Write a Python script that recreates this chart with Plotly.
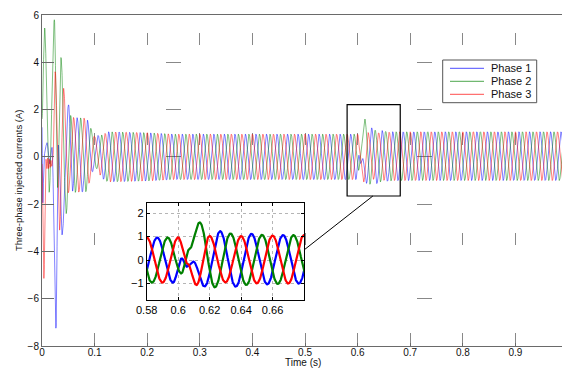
import numpy as np
import plotly.graph_objects as go

# ---------------- data ----------------
F_HZ = 50.0
T_END = 1.0
DT = 0.0002

phase_names = ["Phase 1", "Phase 2", "Phase 3"]
phase_colors = ["#0000ff", "#008000", "#ff0000"]
phase_angle_deg = [-120.0, 120.0, 0.0]          # phase of each current vs cos(wt)

# amplitude envelope of the steady 50 Hz currents (A)
env_t  = [0.0, 0.05, 0.085, 0.1, 0.11, 0.125, 0.2, 0.25, 0.58, 0.6, 0.617, 0.627, 0.64, 0.66, 0.68, 1.0]
env_p1 = [1.6, 1.6, 1.55, 0.6, 0.85, 1.06, 1.02, 0.96, 0.96, 0.96, 1.13, 1.22, 1.12, 1.04, 1.03, 1.03]
env_p2 = [1.6, 1.6, 1.55, 0.6, 0.85, 1.06, 1.02, 0.96, 0.96, 0.96, 1.20, 1.15, 1.08, 1.04, 1.03, 1.03]
env_p3 = [1.6, 1.6, 1.55, 0.6, 0.85, 1.06, 1.02, 0.96, 0.96, 0.96, 1.05, 0.95, 1.00, 1.02, 1.03, 1.03]

# small DC offset of the currents (A)
offset_t = [0.0, 0.085, 0.1, 0.115, 0.6, 0.68, 1.0]
offset_v = [0.08, 0.08, 0.25, 0.0, 0.0, 0.03, 0.03]

# start-up transient: successive extrema (s, A), joined to the steady wave at *_start_end
p1_start_t = [0.0, 0.0015, 0.004, 0.0095, 0.0145, 0.019, 0.0265, 0.031, 0.038, 0.0505, 0.058]
p1_start_v = [1.25, -1.95, 0.1, 0.6, -0.3, 0.4, -7.25, 0.5, -3.3, 2.2, -1.45]
p1_start_end = 0.0667
p2_start_t = [0.0, 0.005, 0.0135, 0.0235, 0.0295, 0.036, 0.046, 0.0545]
p2_start_v = [1.6, 5.45, -1.5, 5.8, -1.3, 4.2, -2.4, 1.75]
p2_start_end = 0.0633
p3_start_t = [0.0, 0.0035, 0.0075, 0.0095, 0.011, 0.0125, 0.014, 0.0155, 0.017, 0.0185, 0.0205, 0.025, 0.0335, 0.041]
p3_start_v = [-0.3, -5.15, -0.1, -0.5, -0.05, -0.5, -0.1, -0.45, -0.15, -0.4, -0.2, 3.6, -3.1, 2.9]
p3_start_end = 0.05

# disturbance near t = 0.6 s: extrema between two steady-wave joints
p1_dist_t = [0.6023, 0.6055, 0.6097]
p1_dist_v = [0.07, -0.28, -0.07]
p1_dist_win = [0.5967, 0.6167]
p2_dist_t = [0.602, 0.607, 0.6137]
p2_dist_v = [-0.57, 0.45, 1.6]
p2_dist_win = [0.5933, 0.6233]
p3_dist_t = [0.606, 0.6116]
p3_dist_v = [-0.15, -1.06]
p3_dist_win = [0.6, 0.62]

main_xticks = [0, 0.1, 0.2, 0.3, 0.4, 0.5, 0.6, 0.7, 0.8, 0.9]
main_xlabels = ["0", "0.1", "0.2", "0.3", "0.4", "0.5", "0.6", "0.7", "0.8", "0.9"]
main_yticks = [-8, -6, -4, -2, 0, 2, 4, 6]
inset_xticks = [0.58, 0.6, 0.62, 0.64, 0.66]
inset_xlabels = ["0.58", "0.6", "0.62", "0.64", "0.66"]
inset_yticks = [-1, 0, 1, 2]

# ---------------- build the curves ----------------
t = np.arange(0.0, T_END + DT / 2, DT)


def steady(tt, env, ang):
    a = np.interp(tt, env_t, env)
    off = np.interp(tt, offset_t, offset_v)
    return a * np.cos(2 * np.pi * F_HZ * tt + np.deg2rad(ang)) + off


def cos_interp(tt, kt, kv):
    kt = np.asarray(kt, float)
    kv = np.asarray(kv, float)
    idx = np.clip(np.searchsorted(kt, tt, side="right") - 1, 0, len(kt) - 2)
    s = np.clip((tt - kt[idx]) / (kt[idx + 1] - kt[idx]), 0, 1)
    w = (1 - np.cos(np.pi * s)) / 2
    return kv[idx] + (kv[idx + 1] - kv[idx]) * w


def build(env, ang, st_t, st_v, st_end, d_t, d_v, d_win):
    y = steady(t, env, ang)
    # start-up window
    kt = list(st_t) + [st_end]
    kv = list(st_v) + [float(steady(np.array([st_end]), env, ang)[0])]
    m = t <= st_end
    y[m] = cos_interp(t[m], kt, kv)
    # disturbance window
    a, b = d_win
    kt = [a] + list(d_t) + [b]
    kv = ([float(steady(np.array([a]), env, ang)[0])] + list(d_v)
          + [float(steady(np.array([b]), env, ang)[0])])
    m = (t >= a) & (t <= b)
    y[m] = cos_interp(t[m], kt, kv)
    return y


currents = [
    build(env_p1, phase_angle_deg[0], p1_start_t, p1_start_v, p1_start_end, p1_dist_t, p1_dist_v, p1_dist_win),
    build(env_p2, phase_angle_deg[1], p2_start_t, p2_start_v, p2_start_end, p2_dist_t, p2_dist_v, p2_dist_win),
    build(env_p3, phase_angle_deg[2], p3_start_t, p3_start_v, p3_start_end, p3_dist_t, p3_dist_v, p3_dist_win),
]

FONT = "Liberation Sans, Arial, Helvetica, sans-serif"
W, H = 562, 369
ML, MR, MT, MB = 42, 0, 15, 23
PW, PH = W - ML - MR, H - MT - MB

fig = go.Figure()
for name, col, y in zip(phase_names, phase_colors, currents):
    fig.add_trace(go.Scatter(x=t, y=y, mode="lines", name=name,
                             line=dict(color=col, width=0.5), showlegend=False,
                             xaxis="x", yaxis="y"))

m_in = (t >= 0.575) & (t <= 0.685)
for name, col, y in zip(phase_names, phase_colors, currents):
    fig.add_trace(go.Scatter(x=t[m_in], y=y[m_in], mode="lines", name=name,
                             line=dict(color=col, width=2.2), showlegend=False,
                             xaxis="x2", yaxis="y2"))


def px_to_paper_x(px):
    return (px - ML) / PW


def px_to_paper_y(py):
    return (H - MB - py) / PH


axis_gray = "#6a6a6a"
fig.update_layout(
    width=W, height=H,
    margin=dict(l=ML, r=MR, t=MT, b=MB, pad=0),
    paper_bgcolor="white", plot_bgcolor="white",
    font=dict(family=FONT, size=10, color="#111"),
    xaxis=dict(domain=[0, 1], range=[0, 0.9885], tickvals=main_xticks, ticktext=main_xlabels,
               ticks="inside", ticklen=3, tickcolor=axis_gray, ticklabelstandoff=-3,
               showline=True, linecolor=axis_gray, linewidth=1, mirror=True,
               showgrid=True, gridcolor="#888888", gridwidth=1, griddash="0px,18px,12px,70px",
               zeroline=False, tickfont=dict(size=10)),
    yaxis=dict(domain=[0, 1], range=[-8, 6], tickvals=main_yticks,
               ticks="inside", ticklen=12, tickcolor=axis_gray,
               showline=True, linecolor=axis_gray, linewidth=1, mirror=False,
               showgrid=True, gridcolor="#888888", gridwidth=1, griddash="0px,124px,15px,112px",
               zeroline=False, tickfont=dict(size=10)),
    xaxis2=dict(domain=[px_to_paper_x(146.7), px_to_paper_x(304)], anchor="y2",
                range=[0.58, 0.68], tickvals=inset_xticks, ticktext=inset_xlabels,
                ticks="inside", ticklen=3, tickcolor="black",
                showline=True, linecolor="black", linewidth=1, mirror="ticks",
                showgrid=True, gridcolor="#b5b5b5", griddash="dot", gridwidth=1,
                zeroline=False, tickfont=dict(size=11, color="black")),
    yaxis2=dict(domain=[px_to_paper_y(300), px_to_paper_y(202.7)], anchor="x2",
                range=[-1.7, 2.44], tickvals=inset_yticks,
                ticks="inside", ticklen=3, tickcolor="black",
                showline=True, linecolor="black", linewidth=1, mirror="ticks",
                showgrid=True, gridcolor="#b5b5b5", griddash="dot", gridwidth=1,
                zeroline=False, tickfont=dict(size=11, color="black")),
)

# zoom box and connector
fig.add_shape(type="rect", xref="x", yref="y", x0=0.58, x1=0.681, y0=-1.655, y1=2.206,
              line=dict(color="black", width=1.2), layer="above")
fig.add_shape(type="line", xref="x", yref="y", x0=0.629, y0=-1.655, x1=0.498, y1=-3.94,
              line=dict(color="black", width=1), layer="above")

# legend box (drawn compactly like the original)
lx0, lx1, ly0, ly1 = 442.7, 536.7, 60, 102.7
fig.add_shape(type="rect", xref="paper", yref="paper",
              x0=px_to_paper_x(lx0), x1=px_to_paper_x(lx1),
              y0=px_to_paper_y(ly1), y1=px_to_paper_y(ly0),
              line=dict(color="#555555", width=1), fillcolor="white", layer="above")
for i, (name, col) in enumerate(zip(phase_names, phase_colors)):
    yy = 68.3 + 13 * i
    fig.add_shape(type="line", xref="paper", yref="paper",
                  x0=px_to_paper_x(450), x1=px_to_paper_x(484),
                  y0=px_to_paper_y(yy), y1=px_to_paper_y(yy),
                  line=dict(color=col, width=0.7), layer="above")
    fig.add_annotation(xref="paper", yref="paper", x=px_to_paper_x(489), y=px_to_paper_y(yy),
                       text=name, showarrow=False, xanchor="left", yanchor="middle",
                       font=dict(size=11, color="#111"))

# axis titles
fig.add_annotation(xref="paper", yref="paper", x=px_to_paper_x(303), y=px_to_paper_y(369),
                   text="Time (s)", showarrow=False, xanchor="center", yanchor="bottom",
                   font=dict(size=10, color="#111"), borderpad=0)
fig.add_annotation(xref="paper", yref="paper", x=px_to_paper_x(18), y=px_to_paper_y(180),
                   text="Three-phase injected currents (A)", showarrow=False, textangle=-90,
                   xanchor="center", yanchor="middle", font=dict(size=9.5, color="#111"))

fig.write_html("out.html")
